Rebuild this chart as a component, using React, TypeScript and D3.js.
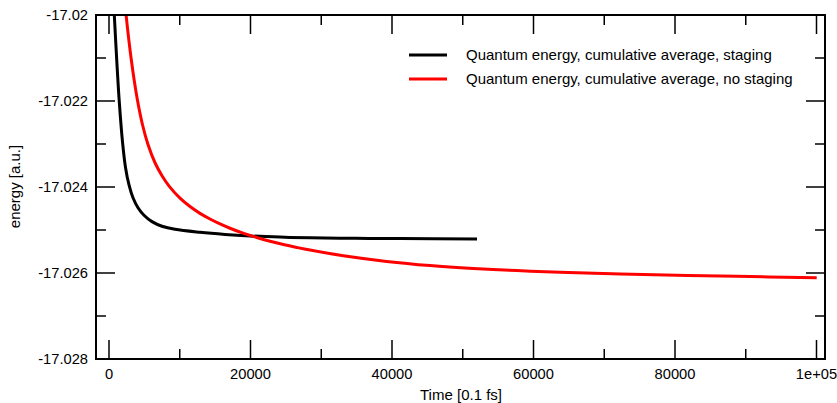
import React from "react";
import * as d3 from "d3";

// Time axis in units of 0.1 fs, energy in a.u.
const stagingTime = [
  495, 749, 1088, 1442, 1908, 2332, 2827, 3392, 4099, 4947, 6078, 7491, 9329, 12862, 16396, 19929, 24170,
  28410, 34770, 41131, 52014,
];
const stagingEnergy = [
  -17.019186, -17.02, -17.021033, -17.021992, -17.022951, -17.023544, -17.023951, -17.024249, -17.024481,
  -17.024656, -17.024805, -17.024912, -17.024984, -17.025053, -17.025102, -17.025137, -17.025165, -17.025183,
  -17.025193, -17.025199, -17.025207,
];

const noStagingTime = [
  1696, 2403, 3152, 4000, 4735, 5512, 6502, 7491, 8551, 10035, 11449, 12862, 14276, 15689, 17102, 18940,
  20876, 22756, 24636, 26530, 28410, 33117, 39251, 45371, 51491, 57625, 63746, 75519, 88721, 100028,
];
const noStagingEnergy = [
  -17.0187, -17.019979, -17.02104, -17.02196, -17.022552, -17.023013, -17.023436, -17.023737, -17.023991,
  -17.024259, -17.024455, -17.024613, -17.024745, -17.024859, -17.024959, -17.025073, -17.025174, -17.025261,
  -17.025337, -17.025405, -17.025467, -17.025599, -17.02573, -17.025826, -17.025894, -17.025944, -17.025983,
  -17.026037, -17.026078, -17.026108,
];

const xMajorTicks = [0, 20000, 40000, 60000, 80000, 100000];
const xMajorLabels = ["0", "20000", "40000", "60000", "80000", "1e+05"];
const xMinorTicks = [10000, 30000, 50000, 70000, 90000];
const yMajorTicks = [-17.02, -17.022, -17.024, -17.026, -17.028];
const yMajorLabels = ["-17.02", "-17.022", "-17.024", "-17.026", "-17.028"];
const yMinorTicks = [-17.021, -17.023, -17.025, -17.027];

const legendLabels = [
  "Quantum energy, cumulative average, staging",
  "Quantum energy, cumulative average, no staging",
];
const seriesColors = ["#000000", "#ff0000"];

const W = 837;
const H = 403;
const left = 96;
const right = 825;
const top = 15;
const bottom = 359;

export default function App() {
  // x = 0 sits at 109 px and 1e5 at ~816.5 px inside the frame
  const pxPerUnit = 0.007075;
  const x = d3
    .scaleLinear()
    .domain([(left - 109) / pxPerUnit, (right - 109) / pxPerUnit])
    .range([left, right]);
  const y = d3.scaleLinear().domain([-17.028, -17.02]).range([bottom, top]);

  const line = d3
    .line<[number, number]>()
    .x((d) => x(d[0]))
    .y((d) => y(d[1]))
    .curve(d3.curveCatmullRom.alpha(0.5));

  const series = [
    stagingTime.map((t, i) => [t, stagingEnergy[i]] as [number, number]),
    noStagingTime.map((t, i) => [t, noStagingEnergy[i]] as [number, number]),
  ];

  const font = "'Liberation Sans', Arial, Helvetica, sans-serif";
  const major = 19;
  const minor = 10;

  return (
    <svg width={W} height={H} style={{ position: "absolute", left: 0, top: 0 }} fontFamily={font}>
      <rect x={0} y={0} width={W} height={H} fill="#fff" />
      <defs>
        <clipPath id="plot-area">
          <rect x={left} y={top} width={right - left} height={bottom - top} />
        </clipPath>
      </defs>

      {/* ticks on all four sides, pointing inward */}
      <g stroke="#000" strokeWidth={1.5}>
        {xMajorTicks.map((t) => (
          <g key={"xM" + t}>
            <line x1={x(t)} x2={x(t)} y1={bottom} y2={bottom - major} />
            <line x1={x(t)} x2={x(t)} y1={top} y2={top + major} />
          </g>
        ))}
        {xMinorTicks.map((t) => (
          <g key={"xm" + t}>
            <line x1={x(t)} x2={x(t)} y1={bottom} y2={bottom - minor} />
            <line x1={x(t)} x2={x(t)} y1={top} y2={top + minor} />
          </g>
        ))}
        {yMajorTicks.map((v) => (
          <g key={"yM" + v}>
            <line x1={left} x2={left + major} y1={y(v)} y2={y(v)} />
            <line x1={right} x2={right - major} y1={y(v)} y2={y(v)} />
          </g>
        ))}
        {yMinorTicks.map((v) => (
          <g key={"ym" + v}>
            <line x1={left} x2={left + minor} y1={y(v)} y2={y(v)} />
            <line x1={right} x2={right - minor} y1={y(v)} y2={y(v)} />
          </g>
        ))}
      </g>

      <g clipPath="url(#plot-area)" fill="none" strokeWidth={3}>
        {series.map((s, i) => (
          <path key={i} d={line(s) ?? ""} stroke={seriesColors[i]} strokeLinejoin="round" />
        ))}
      </g>

      <rect x={left} y={top} width={right - left} height={bottom - top} fill="none" stroke="#000" strokeWidth={2} />

      <g fontSize={14.7} fill="#000">
        {xMajorTicks.map((t, i) => (
          <text key={"xl" + t} x={x(t)} y={379} textAnchor="middle">
            {xMajorLabels[i]}
          </text>
        ))}
        {yMajorTicks.map((v, i) => (
          <text key={"yl" + v} x={88} y={y(v) + 5} textAnchor="end">
            {yMajorLabels[i]}
          </text>
        ))}
        <text x={461} y={400} textAnchor="middle" fontSize={15}>
          Time [0.1 fs]
        </text>
        <text transform="translate(19.5,186.5) rotate(-90)" textAnchor="middle" fontSize={15}>
          energy [a.u.]
        </text>
      </g>

      <g fontSize={15}>
        {legendLabels.map((lbl, i) => (
          <g key={lbl} transform={`translate(0,${55 + i * 24})`}>
            <line x1={409} x2={447} y1={0} y2={0} stroke={seriesColors[i]} strokeWidth={3} />
            <text x={466} y={5} fill="#000">
              {lbl}
            </text>
          </g>
        ))}
      </g>
    </svg>
  );
}
